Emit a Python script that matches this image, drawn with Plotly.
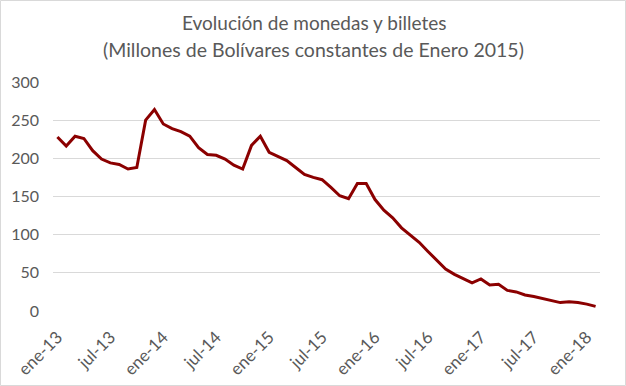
import plotly.graph_objects as go

meses = ["ene", "feb", "mar", "abr", "may", "jun", "jul", "ago", "sep", "oct", "nov", "dic"]
anios = ["13", "14", "15", "16", "17", "18"]
categorias = [f"{m}-{a}" for a in anios for m in meses][:62]  # ene-13 .. feb-18

valores = [
    228, 216, 229, 226, 210, 199, 194, 192, 186, 188, 250, 264,
    245, 239, 235, 229, 214, 205, 204, 199, 191, 186, 217, 229,
    208, 202, 197, 188, 179, 175, 172, 162, 151, 147, 167, 167,
    146, 132, 122, 109, 100, 90, 78, 66, 55, 48,
    43, 37, 42, 34, 35, 27, 25, 21, 19, 16, 13, 11, 12, 11, 9, 6,
]

etiquetas = [categorias[i] for i in range(0, 62, 6)]

titulo_1 = "Evolución de monedas y billetes"
titulo_2 = "(Millones de Bolívares constantes de Enero 2015)"

FONT = "Lato"
GRIS = "#595959"

fig = go.Figure()
fig.add_trace(go.Scatter(
    x=categorias, y=valores, mode="lines",
    line=dict(color="#8B0000", width=3),
    hoverinfo="x+y",
))

W, H = 626, 386
L, R, T, B = 53, 26, 82, 75
pw, ph = W - L - R, H - T - B

fig.update_layout(
    width=W, height=H,
    margin=dict(l=L, r=R, t=T, b=B, autoexpand=False),
    paper_bgcolor="white", plot_bgcolor="white",
    showlegend=False,
    font=dict(family=FONT, color=GRIS),
    xaxis=dict(
        type="category", categoryorder="array", categoryarray=categorias,
        range=[-0.5, 61.5], automargin=False,
        tickmode="array", tickvals=etiquetas, ticktext=etiquetas,
        tickangle=-45, showgrid=False, ticks="", showline=False, zeroline=False,
        tickfont=dict(size=17, color=GRIS, family=FONT),
        ticklabelstandoff=12,
    ),
    yaxis=dict(
        range=[0, 300], tickvals=[0, 50, 100, 150, 200, 250, 300],
        automargin=False,
        showgrid=True, gridcolor="#d9d9d9", gridwidth=1,
        zeroline=False, showline=False, ticks="",
        tickfont=dict(size=16, color=GRIS, family=FONT),
        ticklabelstandoff=13,
    ),
    annotations=[
        dict(text=titulo_1, xref="paper", yref="paper",
             x=(313.5 - L) / pw, y=(H - B - 22) / ph,
             xanchor="center", yanchor="middle", showarrow=False,
             font=dict(size=19, color=GRIS, family=FONT)),
        dict(text=titulo_2, xref="paper", yref="paper",
             x=(313.5 - L) / pw, y=(H - B - 49) / ph,
             xanchor="center", yanchor="middle", showarrow=False,
             font=dict(size=19.5, color=GRIS, family=FONT)),
    ],
    shapes=[
        dict(type="rect", xref="paper", yref="paper",
             x0=(0.5 - L) / pw, x1=(W - 0.5 - L) / pw,
             y0=(H - B - (H - 0.5)) / ph, y1=(H - B - 0.5) / ph,
             line=dict(color="#d9d9d9", width=1), fillcolor="rgba(0,0,0,0)",
             layer="below"),
    ],
)

fig.write_html("out.html", config={"displayModeBar": False},
               post_script="document.body.style.margin='0';document.body.style.overflow='hidden';")
